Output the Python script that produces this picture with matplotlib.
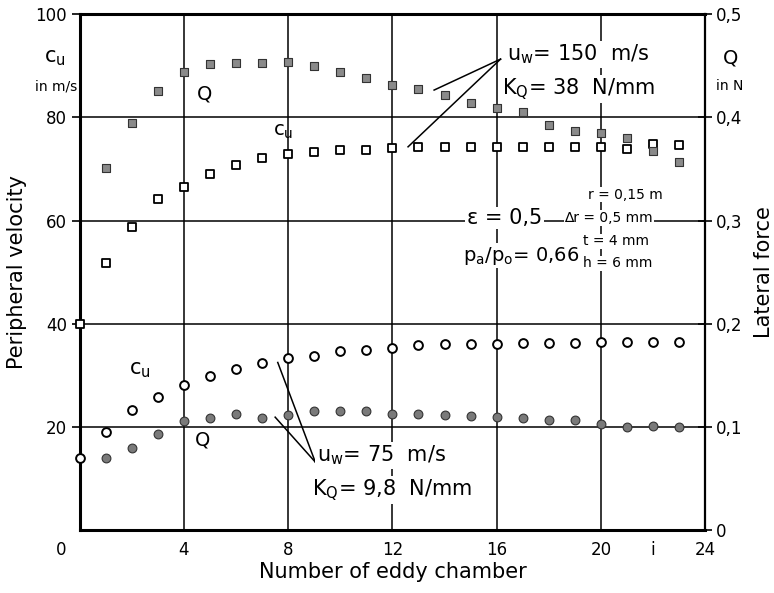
import matplotlib.pyplot as plt
import numpy as np

# chamber numbers
i_hi = list(range(1, 24))
i_lo = list(range(0, 24))
i_lo_q = list(range(1, 24))

# u_w = 150 m/s
cu_hi = [51.7, 58.8, 64.2, 66.6, 69.0, 70.7, 72.1, 72.9, 73.3, 73.6, 73.6, 74.0,
         74.3, 74.3, 74.3, 74.3, 74.3, 74.3, 74.3, 74.3, 73.9, 74.8, 74.6]
q_hi = [0.351, 0.395, 0.426, 0.444, 0.452, 0.453, 0.453, 0.454, 0.450, 0.444, 0.438, 0.431,
        0.428, 0.422, 0.414, 0.409, 0.405, 0.393, 0.387, 0.385, 0.380, 0.367, 0.357]

# u_w = 75 m/s
cu_lo = [14.0, 19.0, 23.2, 25.8, 28.2, 29.9, 31.2, 32.4, 33.3, 33.7, 34.7, 35.0, 35.4,
         35.8, 36.0, 36.0, 36.1, 36.2, 36.3, 36.2, 36.4, 36.5, 36.5, 36.5]
q_lo = [0.070, 0.080, 0.093, 0.106, 0.109, 0.113, 0.109, 0.112, 0.115, 0.115, 0.115, 0.113,
        0.113, 0.112, 0.111, 0.110, 0.109, 0.107, 0.107, 0.103, 0.100, 0.101, 0.100]

# single square on the axis
cu_extra_x = [0]
cu_extra_y = [40]

xticks = [4, 8, 12, 16, 20, 22, 24]
xticklabels = ['4', '8', '12', '16', '20', 'i', '24']
yticks_l = [20, 40, 60, 80, 100]
yticks_r = [0, 0.1, 0.2, 0.3, 0.4, 0.5]
yticklabels_r = ['0', '0,1', '0,2', '0,3', '0,4', '0,5']

plt.rcParams['font.family'] = 'DejaVu Sans'
fig = plt.figure(figsize=(7.74, 5.93), dpi=100)
ax = fig.add_axes([0.103, 0.106, 0.808, 0.870])
ax2 = ax.twinx()

ax.set_xlim(0, 24)
ax.set_ylim(0, 100)
ax2.set_ylim(0, 0.5)

# grid
for gx in [4, 8, 12, 16, 20]:
    ax.axvline(gx, color='black', lw=1.1, zorder=1)
for gy in [20, 40, 60, 80]:
    ax.axhline(gy, color='black', lw=1.1, zorder=1)

ax2.scatter(i_hi, q_hi, marker='s', s=28, facecolor='#8a8a8a', edgecolor='#333333', lw=0.8, zorder=3)
ax.scatter(i_hi, cu_hi, marker='s', s=28, facecolor='white', edgecolor='black', lw=1.3, zorder=3)
ax.scatter(cu_extra_x, cu_extra_y, marker='s', s=28, facecolor='white', edgecolor='black', lw=1.3,
           zorder=4, clip_on=False)
ax.scatter(i_lo, cu_lo, marker='o', s=40, facecolor='white', edgecolor='black', lw=1.4, zorder=3,
           clip_on=False)
ax2.scatter(i_lo_q, q_lo, marker='o', s=40, facecolor='#7a7a7a', edgecolor='#333333', lw=0.8, zorder=3)

for sp in ['left', 'bottom', 'top']:
    ax.spines[sp].set_linewidth(2.2)
ax.spines['right'].set_linewidth(1.6)
for sp in ax2.spines.values():
    sp.set_visible(False)

ax.set_xticks(xticks)
ax.set_xticklabels(xticklabels)
ax.set_yticks(yticks_l)
ax.set_yticklabels([str(v) for v in yticks_l])
ax.tick_params(axis='both', labelsize=12, length=0, pad=8)
ax.tick_params(axis='y', direction='out', length=6, width=1.2, pad=3)
ax2.set_yticks(yticks_r)
ax2.set_yticklabels(yticklabels_r)
ax2.tick_params(axis='y', direction='inout', length=10, width=1.2, labelsize=12, pad=3)

ax.text(-0.022, -0.022, '0', transform=ax.transAxes, fontsize=12, ha='right', va='top')
ax.set_xlabel('Number of eddy chamber', fontsize=15, labelpad=2)
ax.set_ylabel('Peripheral velocity', fontsize=15, labelpad=6)
ax2.set_ylabel('Lateral force', fontsize=15, labelpad=8)

# unit labels
ax.text(-0.022, 0.915, '$\\mathsf{c_u}$', transform=ax.transAxes, fontsize=15, ha='right', va='center')
ax.text(-0.004, 0.86, 'in m/s', transform=ax.transAxes, fontsize=10, ha='right', va='center')
ax.text(1.04, 0.915, 'Q', transform=ax.transAxes, fontsize=14, ha='center', va='center')
ax.text(1.04, 0.86, 'in N', transform=ax.transAxes, fontsize=10, ha='center', va='center')

# annotations for u_w = 150 m/s
ax.text(4.5, 84.5, 'Q', fontsize=14, ha='left', va='center', zorder=5,
        bbox=dict(facecolor='white', edgecolor='none', pad=1))
ax.text(7.4, 77.2, '$\\mathsf{c_u}$', fontsize=14, ha='left', va='center', zorder=5)
ax.text(16.4, 92.2, '$\\mathsf{u_w}$= 150  m/s', fontsize=15, ha='left', va='center', zorder=5,
        bbox=dict(facecolor='white', edgecolor='none', pad=1))
ax.text(16.2, 85.5, '$\\mathsf{K_Q}$= 38  N/mm', fontsize=15, ha='left', va='center', zorder=5,
        bbox=dict(facecolor='white', edgecolor='none', pad=1))
ax.plot([16.15, 13.6], [91.3, 85.3], color='black', lw=1.1, zorder=4)
ax.plot([16.15, 12.6], [91.3, 74.3], color='black', lw=1.1, zorder=4)

ax.text(16.3, 60.5, 'ε = 0,5', fontsize=15, ha='center', va='center', zorder=5,
        bbox=dict(facecolor='white', edgecolor='none', pad=1))
ax.text(14.7, 53.2, '$\\mathsf{p_a}$/$\\mathsf{p_o}$= 0,66', fontsize=14, ha='left', va='center', zorder=5,
        bbox=dict(facecolor='white', edgecolor='none', pad=1))
params = ['r = 0,15 m', '∆r = 0,5 mm', 't = 4 mm', 'h = 6 mm']
params_y = [65.0, 60.5, 56.0, 51.7]
params_x = [19.5, 18.6, 19.3, 19.3]
for t, px, py in zip(params, params_x, params_y):
    ax.text(px, py, t, fontsize=10, ha='left', va='center', zorder=5,
            bbox=dict(facecolor='white', edgecolor='none', pad=0.5))

# annotations for u_w = 75 m/s
ax.text(1.9, 31.0, '$\\mathsf{c_u}$', fontsize=15, ha='left', va='center', zorder=5)
ax.text(4.4, 17.5, 'Q', fontsize=14, ha='left', va='center', zorder=5,
        bbox=dict(facecolor='white', edgecolor='none', pad=1))
ax.text(9.1, 14.5, '$\\mathsf{u_w}$= 75  m/s', fontsize=15, ha='left', va='center', zorder=5,
        bbox=dict(facecolor='white', edgecolor='none', pad=1))
ax.text(8.9, 7.8, '$\\mathsf{K_Q}$= 9,8  N/mm', fontsize=15, ha='left', va='center', zorder=5,
        bbox=dict(facecolor='white', edgecolor='none', pad=1))
ax.plot([9.04, 7.6], [13.2, 32.5], color='black', lw=1.1, zorder=4)
ax.plot([9.04, 7.5], [13.2, 21.9], color='black', lw=1.1, zorder=4)

fig.savefig('out.png', dpi=100)
